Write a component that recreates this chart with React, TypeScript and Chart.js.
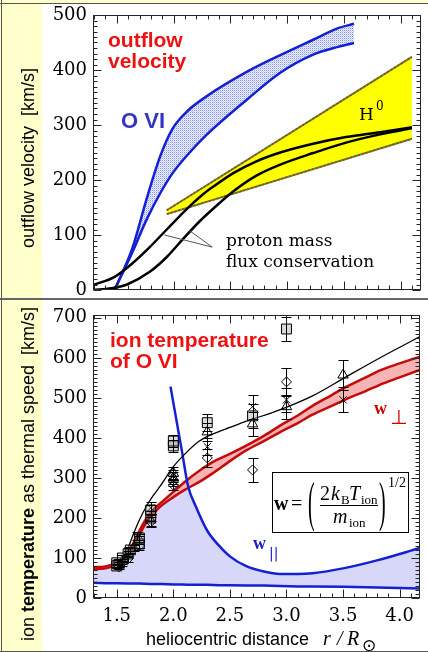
import React, { useEffect, useRef } from 'react';
import { Chart, registerables } from 'chart.js';

Chart.register(...registerables);

// ---------------- shared axis ticks ----------------
const xTickValues = [1.5, 2.0, 2.5, 3.0, 3.5, 4.0];
const topYTickValues = [0, 100, 200, 300, 400, 500];
const botYTickValues = [0, 100, 200, 300, 400, 500, 600, 700];

// ---------------- top panel: outflow velocity ----------------
const oviR = [1.48, 1.64, 1.76, 1.88, 1.99, 2.12, 2.29, 2.64, 2.94, 3.23, 3.45, 3.59];
const oviUpper = [0, 78, 164, 242, 293, 325, 352, 396, 427, 455, 476, 484];
const oviLower = [0, 70, 127, 175, 212, 245, 282, 345, 395, 428, 442, 449];

const protonAR = [1.29, 1.48, 1.64, 1.79, 1.94, 2.12, 2.26, 2.35, 2.53, 2.73, 2.94, 3.23, 3.52, 3.82, 4.1];
const protonA = [9, 24, 49, 78, 110, 148, 174, 188, 213, 234, 250, 266, 278, 287, 296];
const protonBR = [1.29, 1.45, 1.59, 1.79, 1.94, 2.08, 2.23, 2.35, 2.53, 2.73, 2.94, 3.23, 3.52, 3.82, 4.1];
const protonB = [0, 3, 10, 33, 60, 92, 125, 148, 180, 208, 228, 249, 268, 283, 294];

const h0R = [1.94, 4.1];
const h0Upper = [145, 424];
const h0Lower = [138, 275];

const pointerAR = [1.92, 2.34];
const pointerAV = [100, 78];
const pointerBR = [2.14, 2.34];
const pointerBV = [108, 78];

// ---------------- bottom panel: ion temperature ----------------
const parR = [1.29, 1.4, 1.5, 1.6, 1.7, 1.8, 1.9, 2.0, 2.07, 2.13, 2.2, 2.3, 2.4, 2.5, 2.64, 2.8, 2.94, 3.1, 3.23, 3.5, 3.8, 4.18];
const parLow = [38, 37, 37, 36, 36, 35, 35, 34, 34, 33, 33, 33, 32, 32, 31, 31, 30, 29, 29, 28, 26, 24];
const shadeTop = [72, 74, 84, 108, 160, 205, 235, 255, 270, 278, 228, 168, 132, 104, 80, 66, 60, 60, 62, 74, 94, 125];

const parHighR = [1.975, 2.03, 2.08, 2.13, 2.2, 2.3, 2.4, 2.5, 2.64, 2.8, 2.94, 3.1, 3.23, 3.5, 3.8, 4.18];
const parHigh = [528, 440, 360, 280, 228, 168, 132, 104, 80, 66, 60, 60, 62, 74, 94, 125];

const perpR = [1.29, 1.4, 1.5, 1.6, 1.7, 1.76, 1.82, 1.9, 2.0, 2.1, 2.23, 2.35, 2.5, 2.64, 2.8, 2.94, 3.1, 3.23, 3.4, 3.53, 3.7, 3.82, 4.0, 4.18];
const perpLower = [72, 74, 84, 105, 158, 188, 210, 232, 252, 270, 290, 312, 342, 368, 392, 414, 437, 458, 480, 497, 517, 532, 551, 570];
const perpUpper = [77, 79, 89, 112, 168, 198, 220, 240, 265, 290, 318, 340, 360, 380, 405, 430, 456, 480, 507, 528, 551, 568, 586, 603];

const fitR = [1.47, 1.52, 1.58, 1.64, 1.7, 1.76, 1.82, 1.88, 2.0, 2.11, 2.23, 2.35, 2.5, 2.64, 2.94, 3.23, 3.53, 3.82, 4.18];
const fitV = [80, 88, 110, 155, 195, 228, 255, 278, 328, 362, 392, 410, 426, 441, 470, 505, 553, 599, 653];

const sqR = [1.5, 1.5, 1.52, 1.55, 1.6, 1.62, 1.7, 1.7, 1.8, 1.8, 2.0, 2.0, 2.3, 2.7, 3.0];
const sqV = [80, 88, 84, 100, 110, 120, 135, 150, 205, 220, 380, 392, 438, 455, 672];
const sqErr = [6, 6, 6, 8, 8, 8, 10, 10, 12, 12, 15, 15, 22, 30, 30];

const triR = [1.55, 1.65, 1.7, 1.8, 2.0, 2.0, 2.3, 2.7, 3.0, 3.5];
const triV = [92, 125, 145, 195, 300, 312, 415, 435, 478, 557];
const triErr = [6, 8, 10, 15, 15, 15, 22, 30, 30, 37];

const diaR = [1.52, 1.6, 1.7, 1.8, 2.0, 2.0, 2.3, 2.7, 3.0];
const diaV = [78, 98, 130, 190, 282, 292, 350, 320, 540];
const diaErr = [6, 8, 10, 12, 12, 12, 22, 30, 35];

const xMarkR = [1.55, 1.6, 1.68, 1.8, 2.0, 2.3, 2.7, 3.0, 3.5];
const xMarkV = [86, 118, 155, 225, 305, 378, 478, 495, 495];
const xMarkErr = [6, 8, 10, 14, 15, 22, 30, 30, 31];

// ---------------- helpers ----------------
const pts = (xs: number[], ys: number[]) => xs.map((x, i) => ({ x, y: ys[i] }));

const BLUE = '#1420d2';
const RED = '#c40a0a';
const TEXT_RED = '#ee1111';

function line(ctx: any, x1: number, y1: number, x2: number, y2: number) {
  ctx.beginPath();
  ctx.moveTo(x1, y1);
  ctx.lineTo(x2, y2);
  ctx.stroke();
}

const frameTicks = {
  id: 'frameTicks',
  afterDatasetsDraw(chart: any, _args: any, opts: any) {
    const { ctx, chartArea: a, scales } = chart;
    const xs = scales.x;
    const ys = scales.y;
    ctx.save();
    ctx.strokeStyle = '#262626';
    ctx.lineWidth = 1;
    const L = Math.round(a.left) + 0.5;
    const R = Math.round(a.right) - 0.5;
    const T = Math.round(a.top) + 0.5;
    const B = Math.round(a.bottom) - 0.5;
    ctx.strokeRect(L, T, R - L, B - T);
    for (let n = Math.ceil(xs.min / opts.xMinor - 1e-6); n * opts.xMinor <= xs.max + 1e-9; n++) {
      const px = Math.round(xs.getPixelForValue(n * opts.xMinor)) + 0.5;
      const len = n % opts.xEvery === 0 ? 8 : 4;
      line(ctx, px, B, px, B - len);
      line(ctx, px, T, px, T + len);
    }
    for (let n = Math.ceil(ys.min / opts.yMinor - 1e-6); n * opts.yMinor <= ys.max + 1e-9; n++) {
      const py = Math.round(ys.getPixelForValue(n * opts.yMinor)) + 0.5;
      const len = n % opts.yEvery === 0 ? 8 : 4;
      line(ctx, L, py, L + len, py);
      line(ctx, R, py, R - len, py);
    }
    ctx.restore();
  },
};

const errorBars = {
  id: 'errorBars',
  afterDatasetsDraw(chart: any) {
    const { ctx, scales } = chart;
    ctx.save();
    ctx.strokeStyle = '#000';
    ctx.lineWidth = 1;
    chart.data.datasets.forEach((ds: any) => {
      if (!ds.errors) return;
      ds.data.forEach((p: any, j: number) => {
        const e = ds.errors[j];
        const px = Math.round(scales.x.getPixelForValue(p.x)) + 0.5;
        const y1 = Math.round(scales.y.getPixelForValue(p.y - e)) + 0.5;
        const y2 = Math.round(scales.y.getPixelForValue(p.y + e)) + 0.5;
        line(ctx, px, y1, px, y2);
        line(ctx, px - 5, y1, px + 5, y1);
        line(ctx, px - 5, y2, px + 5, y2);
      });
    });
    ctx.restore();
  },
};

const topText = {
  id: 'topText',
  afterDraw(chart: any) {
    const ctx = chart.ctx;
    ctx.save();
    ctx.textBaseline = 'alphabetic';
    ctx.textAlign = 'left';
    ctx.save();
    ctx.translate(34, 158);
    ctx.rotate(-Math.PI / 2);
    ctx.textAlign = 'center';
    ctx.fillStyle = '#000';
    ctx.font = '18px "Liberation Sans"';
    ctx.fillText('outflow velocity  [km/s]', 0, 0);
    ctx.restore();

    ctx.fillStyle = TEXT_RED;
    ctx.font = 'bold 21px "Liberation Sans"';
    ctx.fillText('outflow', 108, 47);
    ctx.fillText('velocity', 108, 68);

    ctx.fillStyle = '#3434c4';
    ctx.font = 'bold 22px "Liberation Sans"';
    ctx.fillText('O VI', 121, 128);

    ctx.fillStyle = '#000';
    ctx.font = '17px "DejaVu Serif"';
    ctx.fillText('H', 359, 120);
    ctx.font = '12px "DejaVu Serif"';
    ctx.fillText('0', 376, 110);
    ctx.font = '17px "DejaVu Serif"';
    ctx.fillText('proton mass', 226, 246);
    ctx.fillText('flux conservation', 226, 267);
    ctx.restore();
  },
};

const botText = {
  id: 'botText',
  afterDraw(chart: any) {
    const ctx = chart.ctx;
    ctx.save();
    ctx.translate(0, -298);
    ctx.textBaseline = 'alphabetic';
    ctx.textAlign = 'left';

    ctx.save();
    ctx.translate(34, 474);
    ctx.rotate(-Math.PI / 2);
    ctx.fillStyle = '#000';
    const parts: [string, string][] = [
      ['ion ', '18px "Liberation Sans"'],
      ['temperature', 'bold 18px "Liberation Sans"'],
      [' as thermal speed  [km/s]', '18px "Liberation Sans"'],
    ];
    let total = 0;
    parts.forEach(([t, f]) => { ctx.font = f; total += ctx.measureText(t).width; });
    let cx = -total / 2;
    parts.forEach(([t, f]) => { ctx.font = f; ctx.fillText(t, cx, 0); cx += ctx.measureText(t).width; });
    ctx.restore();

    ctx.fillStyle = TEXT_RED;
    ctx.font = 'bold 21px "Liberation Sans"';
    ctx.fillText('ion temperature', 110, 347);
    ctx.fillText('of O VI', 110, 368);

    ctx.fillStyle = '#cc0000';
    ctx.font = 'bold 18px "Liberation Serif"';
    ctx.fillText('w', 374, 414);
    ctx.font = '20px "DejaVu Sans"';
    ctx.fillText('\u22A5', 390, 424);

    ctx.fillStyle = '#1a1ac8';
    ctx.font = 'bold 18px "Liberation Serif"';
    ctx.fillText('w', 253, 549);
    ctx.font = '14px "DejaVu Sans"';
    ctx.fillText('||', 269, 558);

    ctx.fillStyle = '#fff';
    ctx.fillRect(272, 472, 137, 61);
    ctx.strokeStyle = '#000';
    ctx.lineWidth = 1;
    ctx.strokeRect(272.5, 472.5, 136, 60);
    ctx.fillStyle = '#000';
    ctx.font = 'bold 20px "Liberation Serif"';
    ctx.fillText('w', 274, 510);
    ctx.font = '20px "Liberation Serif"';
    ctx.fillText('=', 291, 510);
    ctx.save();
    ctx.translate(308, 520);
    ctx.scale(1, 2.75);
    ctx.fillText('(', 0, 0);
    ctx.restore();
    ctx.save();
    ctx.translate(379, 520);
    ctx.scale(1, 2.75);
    ctx.fillText(')', 0, 0);
    ctx.restore();
    ctx.fillText('2', 320, 500);
    ctx.font = 'italic 20px "Liberation Serif"';
    ctx.fillText('k', 331, 500);
    ctx.fillText('T', 349, 500);
    ctx.fillText('m', 333, 523);
    ctx.font = '13px "Liberation Serif"';
    ctx.fillText('B', 341, 504);
    ctx.fillText('ion', 361, 504);
    ctx.fillText('ion', 349, 527);
    ctx.font = '14px "Liberation Serif"';
    ctx.fillText('1/2', 388, 487);
    line(ctx, 320, 505.5, 378, 505.5);

    ctx.fillStyle = '#000';
    ctx.font = '18px "Liberation Sans"';
    ctx.fillText('heliocentric distance', 146, 645);
    ctx.font = 'italic 20px "Liberation Serif"';
    ctx.fillText('r', 323, 645);
    ctx.fillText('/', 337, 645);
    ctx.fillText('R', 347, 645);
    ctx.font = '17px "DejaVu Sans"';
    ctx.fillText('\u2299', 362, 651);
    ctx.restore();
  },
};

function xScale(show: boolean) {
  return {
    type: 'linear',
    min: 1.29,
    max: 4.18,
    display: show,
    grid: { display: false, drawTicks: false },
    border: { display: false },
    afterBuildTicks: (s: any) => { s.ticks = xTickValues.map((v) => ({ value: v })); },
    afterFit: (s: any) => { s.height = show ? 30 : 0; s.paddingLeft = 0; s.paddingRight = 0; },
    ticks: {
      padding: 8,
      color: '#000',
      autoSkip: false,
      maxRotation: 0,
      font: { family: '"DejaVu Serif"', size: 18 },
      callback: (v: any) => Number(v).toFixed(1),
    },
  };
}

function yScale(max: number, tickVals: number[]) {
  return {
    type: 'linear',
    min: 0,
    max,
    grid: { display: false, drawTicks: false },
    border: { display: false },
    afterBuildTicks: (s: any) => { s.ticks = tickVals.map((v) => ({ value: v })); },
    afterFit: (s: any) => { s.width = 52; s.paddingTop = 0; s.paddingBottom = 0; },
    ticks: {
      padding: 6,
      color: '#000',
      autoSkip: false,
      font: { family: '"DejaVu Serif"', size: 18 },
      callback: (v: any) => String(v),
    },
  };
}

const lineDs = (data: any[], color: string, width: number, extra: any = {}) => ({
  data,
  borderColor: color,
  borderWidth: width,
  pointRadius: 0,
  showLine: true,
  fill: false,
  cubicInterpolationMode: 'monotone',
  ...extra,
});

const markerDs = (xs: number[], ys: number[], errs: number[], style: string, radius: number, fillCol = 'rgba(0,0,0,0)') => ({
  data: pts(xs, ys),
  errors: errs,
  showLine: false,
  pointStyle: style,
  pointRadius: radius,
  pointBorderWidth: 1,
  pointBorderColor: '#000',
  pointBackgroundColor: fillCol,
  order: 1,
});

export default function App() {
  const topRef = useRef<HTMLCanvasElement>(null);
  const botRef = useRef<HTMLCanvasElement>(null);

  useEffect(() => {
    const topCanvas = topRef.current!;
    const botCanvas = botRef.current!;

    const pc = document.createElement('canvas');
    pc.width = 2;
    pc.height = 2;
    const pctx = pc.getContext('2d')!;
    pctx.fillStyle = '#eef0ff';
    pctx.fillRect(0, 0, 2, 2);
    pctx.fillStyle = '#8495ee';
    pctx.fillRect(0, 0, 1, 1);
    pctx.fillStyle = '#c6cdfa';
    pctx.fillRect(1, 1, 1, 1);
    const pattern = topCanvas.getContext('2d')!.createPattern(pc, 'repeat');

    const topChart = new Chart(topCanvas, {
      type: 'scatter',
      data: {
        datasets: [
          lineDs(pts(oviR, oviLower), BLUE, 2.5, { order: 5 }),
          lineDs(pts(oviR, oviUpper), BLUE, 2.5, { order: 6, fill: { target: 0 }, backgroundColor: pattern }),
          lineDs(pts(h0R, h0Lower), '#3c9a2a', 2, { order: 8, cubicInterpolationMode: 'default', tension: 0 }),
          lineDs(pts(h0R, h0Upper), '#3c9a2a', 2, { order: 9, cubicInterpolationMode: 'default', tension: 0, fill: { target: 2 }, backgroundColor: '#ffff00' }),
          lineDs(pts(h0R, h0Lower), '#e02020', 1.5, { order: 7, cubicInterpolationMode: 'default', tension: 0, borderDash: [2, 2] }),
          lineDs(pts(h0R, h0Upper), '#e02020', 1.5, { order: 7, cubicInterpolationMode: 'default', tension: 0, borderDash: [2, 2] }),
          lineDs(pts(protonAR, protonA), '#000', 2.5, { order: 3 }),
          lineDs(pts(protonBR, protonB), '#000', 2.5, { order: 3 }),
          lineDs(pts(pointerAR, pointerAV), '#555', 1, { order: 2, cubicInterpolationMode: 'default', tension: 0 }),
          lineDs(pts(pointerBR, pointerBV), '#555', 1, { order: 2, cubicInterpolationMode: 'default', tension: 0 }),
        ],
      } as any,
      options: {
        responsive: false,
        animation: false,
        devicePixelRatio: 1,
        layout: { padding: { left: 41, right: 7, top: 15, bottom: 8 } },
        scales: { x: xScale(false), y: yScale(500, topYTickValues) } as any,
        plugins: {
          legend: { display: false },
          tooltip: { enabled: false },
          frameTicks: { xMinor: 0.1, xEvery: 5, yMinor: 10, yEvery: 10 },
        } as any,
      },
      plugins: [frameTicks, topText],
    });

    const botChart = new Chart(botCanvas, {
      type: 'scatter',
      data: {
        datasets: [
          lineDs(pts(parR, parLow), BLUE, 2.5, { order: 5, cubicInterpolationMode: 'default', tension: 0 }),
          lineDs(pts(parR, shadeTop), 'rgba(0,0,0,0)', 0, { order: 20, cubicInterpolationMode: 'default', tension: 0.2, fill: { target: 0 }, backgroundColor: '#d7d7fa' }),
          lineDs(pts(perpR, perpLower), RED, 2.5, { order: 8 }),
          lineDs(pts(perpR, perpUpper), RED, 2.5, { order: 9, fill: { target: 2 }, backgroundColor: '#f6b4b4' }),
          lineDs(pts(parHighR, parHigh), BLUE, 2.5, { order: 4 }),
          lineDs(pts(fitR, fitV), '#000', 1.3, { order: 3 }),
          markerDs(sqR, sqV, sqErr, 'rect', 7, 'rgba(150,150,150,0.35)'),
          markerDs(triR, triV, triErr, 'triangle', 6),
          markerDs(diaR, diaV, diaErr, 'rectRot', 5),
          markerDs(xMarkR, xMarkV, xMarkErr, 'crossRot', 5),
        ],
      } as any,
      options: {
        responsive: false,
        animation: false,
        devicePixelRatio: 1,
        layout: { padding: { left: 41, right: 7, top: 17, bottom: 24 } },
        scales: { x: xScale(true), y: yScale(707, botYTickValues) } as any,
        plugins: {
          legend: { display: false },
          tooltip: { enabled: false },
          frameTicks: { xMinor: 0.1, xEvery: 5, yMinor: 10, yEvery: 10 },
        } as any,
      },
      plugins: [errorBars, frameTicks, botText],
    });

    return () => {
      topChart.destroy();
      botChart.destroy();
    };
  }, []);

  return (
    <div style={{ position: 'absolute', left: 0, top: 0, width: 428, height: 652, background: '#ffffcc', overflow: 'hidden' }}>
      <div style={{ position: 'absolute', left: 42, top: 4, width: 386, height: 294, background: '#fff' }} />
      <div style={{ position: 'absolute', left: 42, top: 300, width: 386, height: 351, background: '#fff' }} />
      <div style={{ position: 'absolute', left: 0, top: 3, width: 428, height: 1, background: '#555' }} />
      <div style={{ position: 'absolute', left: 0, top: 298, width: 428, height: 2, background: '#666' }} />
      <div style={{ position: 'absolute', left: 0, top: 651, width: 428, height: 1, background: '#555' }} />
      <div style={{ position: 'absolute', left: 1, top: 0, width: 1, height: 652, background: '#555' }} />
      <canvas ref={topRef} width={428} height={298} style={{ position: 'absolute', left: 0, top: 0, width: 428, height: 298 }} />
      <canvas ref={botRef} width={428} height={354} style={{ position: 'absolute', left: 0, top: 298, width: 428, height: 354 }} />
    </div>
  );
}
